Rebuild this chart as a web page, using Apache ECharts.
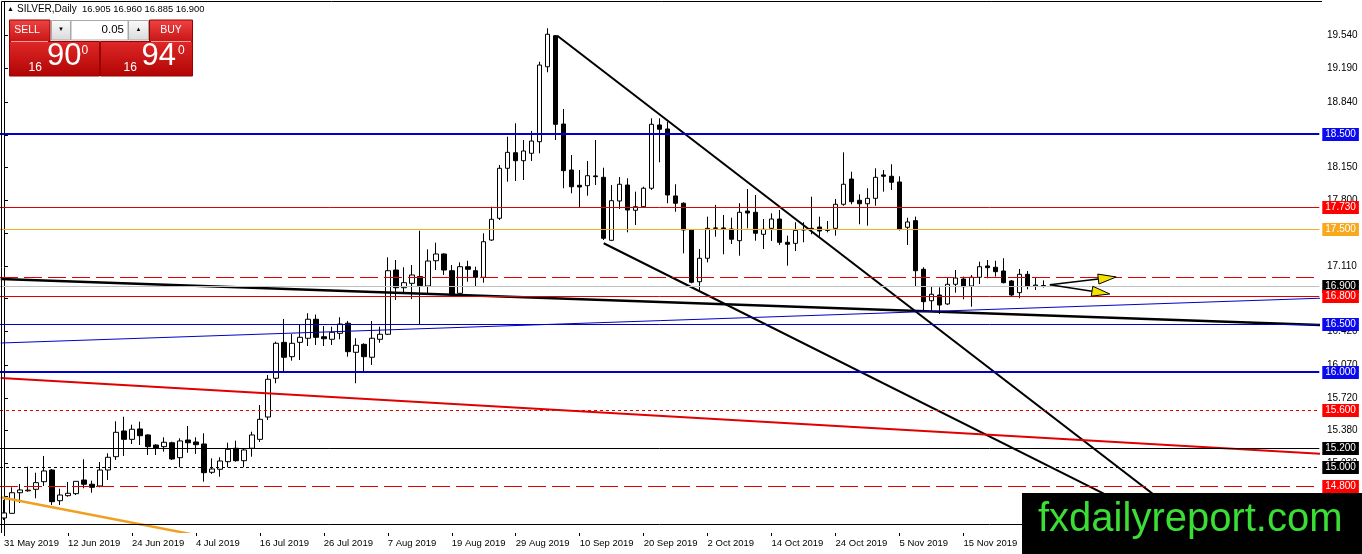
<!DOCTYPE html>
<html>
<head>
<meta charset="utf-8">
<title>SILVER,Daily</title>
<script src="https://cdn.jsdelivr.net/npm/echarts@6.0.0/dist/echarts.min.js"></script>
<style>
  html, body { margin: 0; padding: 0; background: #fff; }
  #chart { width: 1362px; height: 554px; }
</style>
</head>
<body>
<div id="chart"></div>
<script>
// date labels, one every 8 bars (bar 0 = 31 May 2019)
var tickLabels = ["31 May 2019", "12 Jun 2019", "24 Jun 2019", "4 Jul 2019", "16 Jul 2019",
  "26 Jul 2019", "7 Aug 2019", "19 Aug 2019", "29 Aug 2019", "10 Sep 2019", "20 Sep 2019",
  "2 Oct 2019", "14 Oct 2019", "24 Oct 2019", "5 Nov 2019", "15 Nov 2019", "27 Nov 2019"];
var slotCount = 165;

var priceTicks = [19.54, 19.19, 18.84, 18.49, 18.15, 17.80, 17.46, 17.11, 16.77, 16.42,
  16.07, 15.72, 15.38, 15.03, 14.69];

// daily bars: open, high, low, close
var candles = [
  [14.459, 14.648, 14.438, 14.512], [14.508, 14.782, 14.505, 14.725], [14.725, 14.817, 14.617, 14.754],
  [14.745, 14.999, 14.736, 14.752], [14.761, 14.936, 14.666, 14.831], [14.841, 15.112, 14.796, 14.954],
  [14.964, 14.975, 14.596, 14.631], [14.641, 14.767, 14.596, 14.701], [14.694, 14.838, 14.683, 14.719],
  [14.715, 14.848, 14.701, 14.845], [14.859, 15.077, 14.772, 14.814], [14.814, 14.852, 14.725, 14.782],
  [14.796, 15.048, 14.782, 14.964], [14.964, 15.140, 14.859, 15.098], [15.104, 15.477, 15.070, 15.361],
  [15.375, 15.525, 15.112, 15.287], [15.287, 15.441, 15.238, 15.393], [15.396, 15.473, 15.227, 15.325],
  [15.333, 15.340, 15.122, 15.210], [15.227, 15.235, 15.122, 15.193], [15.210, 15.308, 15.157, 15.256],
  [15.251, 15.262, 15.070, 15.080], [15.094, 15.298, 14.993, 15.270], [15.280, 15.427, 15.146, 15.251],
  [15.259, 15.308, 15.133, 15.231], [15.238, 15.351, 14.841, 14.936], [14.940, 15.087, 14.922, 14.975],
  [14.972, 15.098, 14.894, 15.059], [15.052, 15.251, 14.993, 15.182], [15.193, 15.273, 15.052, 15.062],
  [15.062, 15.193, 14.993, 15.175], [15.193, 15.367, 15.104, 15.333], [15.287, 15.648, 15.259, 15.498],
  [15.522, 15.964, 15.491, 15.919], [15.930, 16.315, 15.877, 16.298], [16.308, 16.554, 15.999, 16.151],
  [16.157, 16.396, 16.115, 16.298], [16.308, 16.491, 16.122, 16.361], [16.351, 16.614, 16.270, 16.551],
  [16.551, 16.600, 16.280, 16.361], [16.367, 16.480, 16.270, 16.346], [16.340, 16.473, 16.280, 16.414],
  [16.403, 16.572, 16.340, 16.501], [16.509, 16.533, 16.157, 16.210], [16.203, 16.351, 15.877, 16.277],
  [16.287, 16.298, 15.999, 16.157], [16.151, 16.533, 16.070, 16.351], [16.340, 16.473, 16.304, 16.393],
  [16.393, 17.203, 16.385, 17.062], [17.069, 17.175, 16.754, 16.883], [16.883, 17.098, 16.824, 16.936],
  [16.929, 17.122, 16.764, 17.017], [17.000, 17.483, 16.501, 16.904], [16.901, 17.287, 16.817, 17.164],
  [17.167, 17.357, 17.069, 17.238], [17.238, 17.245, 17.017, 17.069], [17.062, 17.122, 16.796, 16.817],
  [16.824, 17.150, 16.806, 17.104], [17.104, 17.167, 16.946, 17.077], [17.062, 17.104, 16.894, 16.993],
  [16.993, 17.456, 16.936, 17.367], [17.385, 17.736, 17.375, 17.603], [17.614, 18.175, 17.596, 18.140],
  [18.140, 18.473, 17.999, 18.308], [18.304, 18.614, 18.006, 18.220], [18.220, 18.438, 18.017, 18.322],
  [18.298, 18.533, 18.217, 18.427], [18.420, 19.262, 18.298, 19.227], [19.209, 19.614, 19.151, 19.551],
  [19.536, 19.543, 18.438, 18.603], [18.606, 18.764, 17.930, 18.115], [18.122, 18.280, 17.877, 17.946],
  [17.961, 18.122, 17.725, 17.943], [17.957, 18.217, 17.852, 18.062], [18.060, 18.438, 17.964, 18.052],
  [18.045, 18.146, 17.385, 17.403], [17.382, 17.964, 17.375, 17.799], [17.796, 18.048, 17.712, 17.972],
  [17.964, 18.035, 17.466, 17.701], [17.698, 17.894, 17.543, 17.736], [17.736, 17.946, 17.725, 17.930],
  [17.930, 18.666, 17.912, 18.603], [18.596, 18.666, 18.203, 18.551], [18.554, 18.631, 17.772, 17.859],
  [17.849, 17.972, 17.683, 17.772], [17.772, 17.782, 17.245, 17.491], [17.491, 17.501, 16.929, 16.940],
  [16.946, 17.290, 16.841, 17.193], [17.193, 17.631, 17.150, 17.508], [17.508, 17.754, 17.420, 17.512],
  [17.512, 17.649, 17.235, 17.506], [17.501, 17.620, 17.343, 17.393], [17.378, 17.772, 17.220, 17.677],
  [17.690, 17.922, 17.508, 17.669], [17.677, 17.859, 17.378, 17.456], [17.445, 17.606, 17.290, 17.498],
  [17.508, 17.666, 17.375, 17.606], [17.606, 17.701, 17.333, 17.361], [17.361, 17.431, 17.115, 17.340],
  [17.350, 17.572, 17.269, 17.487], [17.490, 17.572, 17.361, 17.496], [17.501, 17.841, 17.445, 17.508],
  [17.522, 17.631, 17.420, 17.480], [17.487, 17.585, 17.466, 17.491], [17.508, 17.817, 17.431, 17.761],
  [17.761, 18.308, 17.746, 17.972], [18.027, 18.104, 17.761, 17.788], [17.803, 17.866, 17.551, 17.767],
  [17.767, 17.930, 17.536, 17.824], [17.824, 18.140, 17.746, 18.045], [18.070, 18.122, 17.894, 18.056],
  [18.056, 18.182, 17.912, 17.993], [17.996, 18.056, 17.485, 17.496], [17.519, 17.620, 17.333, 17.575],
  [17.589, 17.631, 16.901, 17.062], [17.077, 17.098, 16.641, 16.736], [16.746, 16.901, 16.630, 16.814],
  [16.806, 16.887, 16.606, 16.701], [16.712, 16.993, 16.701, 16.919], [16.919, 17.069, 16.831, 16.985],
  [16.975, 17.000, 16.761, 16.894], [16.901, 17.017, 16.683, 16.993], [16.993, 17.157, 16.922, 17.104],
  [17.112, 17.175, 16.982, 17.094], [17.098, 17.167, 17.000, 17.052], [17.059, 17.193, 16.929, 16.936],
  [16.954, 16.964, 16.796, 16.806], [16.831, 17.080, 16.772, 17.024], [17.024, 17.059, 16.866, 16.901],
  [16.901, 16.993, 16.859, 16.911], [16.905, 16.960, 16.885, 16.900]
];

// horizontal levels on the chart
var levelPrices = [18.5, 17.73, 17.5, 17.0, 16.9, 16.8, 16.5, 16.0, 15.6, 15.2, 15.0, 14.8, 14.4];

// trend lines: [bar, price] -> [bar, price]
var trendLines = [
  [[69.2, 19.535], [150.0, 14.303]],
  [[75.0, 17.351], [147.4, 14.300]],
  [[-0.41, 16.975], [164.84, 16.491]],
  [[-0.41, 16.301], [164.84, 16.773]],
  [[-0.41, 15.933], [164.84, 15.134]],
  [[-0.41, 14.677], [23.3, 14.291]]
];

// the two arrows after the last bar
var arrows = [
  [[130.8, 16.915], [139.1, 16.996]],
  [[130.8, 16.915], [138.3, 16.817]]
];

var BLUE = "#0000c8", RED = "#e00000", BLK = "#000000";
var levelStyles = [
  { line: BLUE, width: 2, dash: null, box: "#0a0af0" },
  { line: RED, width: 1, dash: null, box: "#ff0000" },
  { line: "#f0b020", width: 1, dash: null, box: "#f7a81b" },
  { line: RED, width: 1, dash: [18, 6], box: null },
  { line: "#c0c0c0", width: 1, dash: null, box: BLK },
  { line: RED, width: 1, dash: null, box: "#ff0000" },
  { line: BLUE, width: 1, dash: null, box: "#0a0af0" },
  { line: BLUE, width: 2, dash: null, box: "#0a0af0" },
  { line: RED, width: 1, dash: [3, 3], box: "#ff0000" },
  { line: BLK, width: 1, dash: null, box: BLK },
  { line: BLK, width: 1, dash: [3, 3], box: BLK },
  { line: RED, width: 1, dash: [18, 6], box: "#ff0000" },
  { line: BLK, width: 1, dash: null, box: BLK }
];
var trendStyles = [
  { color: BLK, width: 2 },
  { color: BLK, width: 2 },
  { color: BLK, width: 2.5 },
  { color: BLUE, width: 1 },
  { color: RED, width: 2 },
  { color: "#f0a020", width: 2.5 }
];

var FONT = "Liberation Sans";
var slots = [];
for (var i = 0; i < slotCount; i++) slots.push(String(i));

var chart = echarts.init(document.getElementById("chart"));

function redBox(x, y, w, h, top, bottom) {
  return {
    type: "rect", z: 100,
    shape: { x: x, y: y, width: w, height: h },
    style: {
      fill: new echarts.graphic.LinearGradient(0, 0, 0, 1, [
        { offset: 0, color: top }, { offset: 1, color: bottom }
      ]),
      stroke: "#9a0000", lineWidth: 1
    }
  };
}
function grayBox(x, y, w, h) {
  return {
    type: "rect", z: 100,
    shape: { x: x, y: y, width: w, height: h },
    style: {
      fill: new echarts.graphic.LinearGradient(0, 0, 0, 1, [
        { offset: 0, color: "#fbfbfb" }, { offset: 1, color: "#d9d9d9" }
      ]),
      stroke: "#a8a8a8", lineWidth: 1
    }
  };
}
function txt(x, y, s, size, color, align) {
  return {
    type: "text", z: 101,
    style: {
      x: x, y: y, text: s, fill: color,
      font: size + "px " + FONT, align: align || "left", verticalAlign: "middle"
    }
  };
}

var option = {
  animation: false,
  backgroundColor: "#fff",
  grid: { left: -0.7, right: 42.7, top: 2, bottom: 21, containLabel: false },
  xAxis: [
    {
      type: "category",
      data: slots,
      boundaryGap: true,
      axisLine: { show: false },
      axisTick: { show: true, alignWithLabel: true, interval: 7, length: 3, lineStyle: { color: "#000" } },
      axisLabel: {
        interval: 7, align: "left", margin: 5, color: "#000",
        fontSize: 9.5, fontFamily: FONT,
        formatter: function (v, idx) {
          return idx % 8 === 0 && tickLabels[idx / 8] ? tickLabels[idx / 8] : "";
        }
      },
      splitLine: { show: false }
    },
    { type: "value", min: -0.5, max: slotCount - 0.5, show: false }
  ],
  yAxis: {
    type: "value",
    position: "right",
    offset: 2.7,
    min: 14.301,
    max: 19.8905,
    axisLine: { show: true, lineStyle: { color: "#000" } },
    axisTick: { show: true, customValues: priceTicks, length: 4, lineStyle: { color: "#000" } },
    axisLabel: {
      customValues: priceTicks, margin: 5, color: "#000", fontSize: 10, fontFamily: FONT,
      formatter: function (v) { return v.toFixed(3); }
    },
    splitLine: { show: false }
  },
  series: [
    {
      type: "candlestick",
      xAxisIndex: 0,
      yAxisIndex: 0,
      barWidth: 5,
      data: candles.map(function (c) { return [c[0], c[3], c[2], c[1]]; }),
      itemStyle: { color: "#fff", color0: "#000", borderColor: "#000", borderColor0: "#000", borderWidth: 1 },
      z: 2
    },
    {
      // trend lines
      type: "custom",
      xAxisIndex: 1,
      yAxisIndex: 0,
      clip: true,
      silent: true,
      z: 4,
      data: trendLines.map(function (l, k) { return [l[0][0], l[0][1], l[1][0], l[1][1], k]; }),
      renderItem: function (params, api) {
        var a = api.coord([api.value(0), api.value(1)]);
        var b = api.coord([api.value(2), api.value(3)]);
        var st = trendStyles[api.value(4)];
        return {
          type: "line",
          shape: { x1: a[0], y1: a[1], x2: b[0], y2: b[1] },
          style: { stroke: st.color, lineWidth: st.width }
        };
      }
    },
    {
      // horizontal levels with their price boxes on the axis
      type: "custom",
      xAxisIndex: 1,
      yAxisIndex: 0,
      clip: false,
      silent: true,
      z: 5,
      data: levelPrices.map(function (v, k) { return [0, v, k]; }),
      renderItem: function (params, api) {
        var cs = params.coordSys;
        var v = api.value(1);
        var s = levelStyles[api.value(2)];
        var y = Math.round(api.coord([0, v])[1]);
        var yy = s.width % 2 === 1 ? y + 0.5 : y;
        var kids = [{
          type: "line",
          shape: { x1: cs.x, y1: yy, x2: cs.x + cs.width, y2: yy },
          style: { stroke: s.line, lineWidth: s.width, lineDash: s.dash }
        }];
        if (s.box) {
          kids.push({
            type: "text",
            z2: 10,
            style: {
              x: cs.x + cs.width + 3, y: y + 0.5, text: v.toFixed(3), fill: "#fff",
              backgroundColor: s.box, padding: [2, 3, 1, 3],
              font: "10px " + FONT, align: "left", verticalAlign: "middle"
            }
          });
        }
        return { type: "group", children: kids };
      }
    },
    {
      // arrows
      type: "custom",
      xAxisIndex: 1,
      yAxisIndex: 0,
      clip: true,
      silent: true,
      z: 6,
      data: arrows.map(function (l) { return [l[0][0], l[0][1], l[1][0], l[1][1]]; }),
      renderItem: function (params, api) {
        var a = api.coord([api.value(0), api.value(1)]);
        var b = api.coord([api.value(2), api.value(3)]);
        var dx = b[0] - a[0], dy = b[1] - a[1];
        var len = Math.sqrt(dx * dx + dy * dy);
        var ux = dx / len, uy = dy / len, hl = 18, hw = 5;
        var bx = b[0] - ux * hl, by = b[1] - uy * hl;
        return {
          type: "group",
          children: [
            { type: "line", shape: { x1: a[0], y1: a[1], x2: bx, y2: by }, style: { stroke: "#000", lineWidth: 1.5 } },
            {
              type: "polygon",
              shape: { points: [[b[0], b[1]], [bx - uy * hw, by + ux * hw], [bx + uy * hw, by - ux * hw]] },
              style: { fill: "#f5e000", stroke: "#000", lineWidth: 1 }
            }
          ]
        };
      }
    }
  ],
  graphic: [
    // chart frame (left + top)
    { type: "polyline", z: 50, shape: { points: [[1.5, 533], [1.5, 1.5], [1322, 1.5]] }, style: { stroke: "#000", lineWidth: 1, fill: null } },
    // header line
    txt(7, 9, "\u25B2", 7, "#000"),
    txt(17, 9, "SILVER,Daily", 10, "#000"),
    txt(82, 9, "16.905 16.960 16.885 16.900", 9.4, "#000"),
    // one-click trading panel
    redBox(9.5, 20, 40.5, 21.5, "#ee4444", "#c81414"),
    grayBox(51.5, 20.5, 19, 19.5),
    { type: "rect", z: 100, shape: { x: 71, y: 20.5, width: 57, height: 19.5 }, style: { fill: "#fff", stroke: "#a8a8a8", lineWidth: 1 } },
    grayBox(128.5, 20.5, 20, 19.5),
    redBox(149.5, 20, 43, 21.5, "#ee4444", "#c81414"),
    redBox(9.5, 41.5, 90, 34.5, "#e02828", "#b00404"),
    redBox(100.5, 41.5, 92, 34.5, "#e02828", "#b00404"),
    { type: "line", z: 101, shape: { x1: 11, y1: 41.5, x2: 48, y2: 41.5 }, style: { stroke: "#f39a9a", lineWidth: 1 } },
    { type: "line", z: 101, shape: { x1: 151, y1: 41.5, x2: 191, y2: 41.5 }, style: { stroke: "#f39a9a", lineWidth: 1 } },
    txt(27, 30.5, "SELL", 10.5, "#fff", "center"),
    txt(171, 30.5, "BUY", 10.5, "#fff", "center"),
    txt(61, 29.5, "\u25BC", 6, "#000", "center"),
    txt(138.5, 29.5, "\u25B2", 6, "#000", "center"),
    txt(124, 30, "0.05", 11.5, "#000", "right"),
    txt(28.5, 67.5, "16", 12, "#fff"),
    txt(47, 56, "90", 31, "#fff"),
    txt(81.5, 51, "0", 12, "#fff"),
    txt(123.5, 67.5, "16", 12, "#fff"),
    txt(141.5, 56, "94", 31, "#fff"),
    txt(178, 51, "0", 12, "#fff"),
    // watermark
    { type: "rect", z: 110, shape: { x: 1022, y: 493, width: 340, height: 61 }, style: { fill: "#000" } },
    {
      type: "text", z: 111,
      style: { x: 1038, y: 520, text: "fxdailyreport.com", fill: "#3ade34", font: "40px " + FONT, verticalAlign: "middle" }
    }
  ]
};
chart.setOption(option);
</script>
</body>
</html>
